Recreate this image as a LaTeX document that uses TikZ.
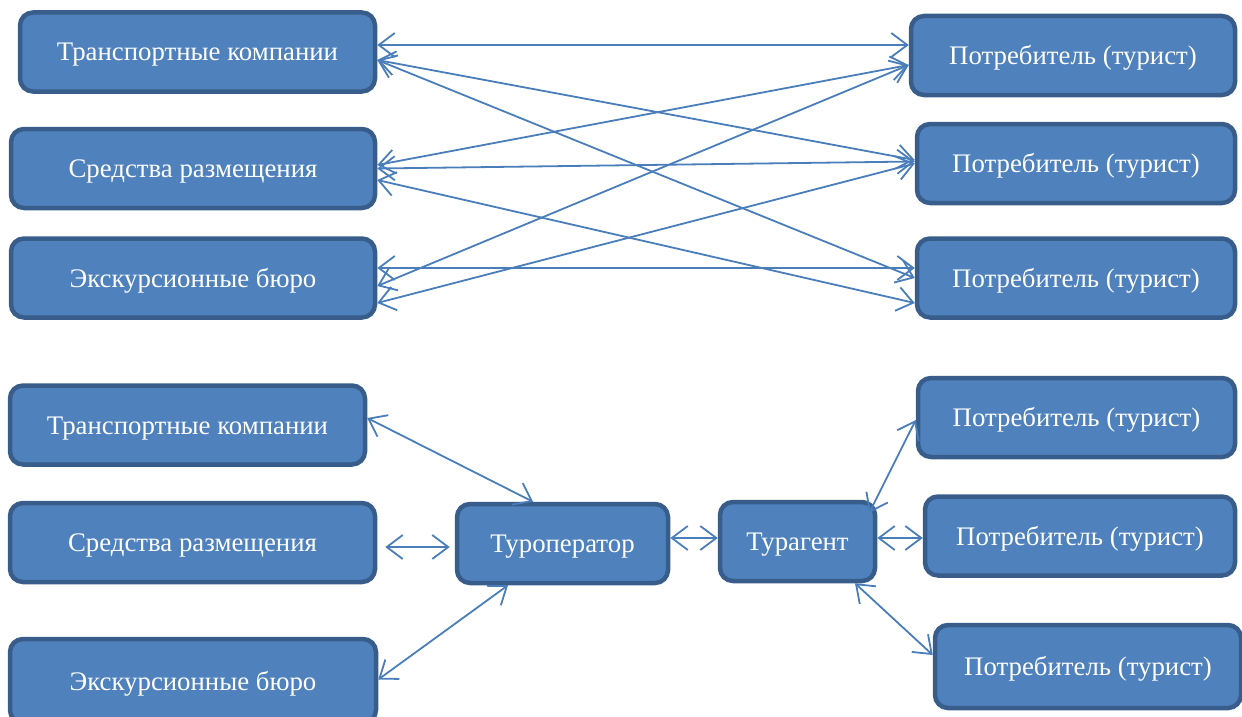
\documentclass[tikz,border=0pt]{standalone}
\usepackage{fontspec}
\setmainfont{Liberation Serif}
\usetikzlibrary{arrows.meta}
\definecolor{boxfill}{HTML}{4F81BD}
\definecolor{boxline}{HTML}{385D8A}
\definecolor{linkcol}{HTML}{4A7EBB}
\tikzset{
	box/.style={draw=boxline, fill=boxfill, line width=4.5pt, rounded corners=13pt, text=white, inner sep=0pt, minimum height=79pt, text height=18pt, text depth=0pt, font=\fontsize{26.8}{31}\selectfont},
	link/.style={draw=linkcol, line width=1.8pt, {Straight Barb[length=16pt,width=24pt]}-{Straight Barb[length=16pt,width=24pt]}}
}

\begin{document}
\begin{tikzpicture}[x=1pt, y=-1pt]
			%%%%% START %%%%%
			
			\useasboundingbox (0, 0) rectangle (1242, 717);
			\clip (0, 0) rectangle (1242, 717);
			
			\node[box, minimum width=355pt] (trans1) at (197.5, 52) {Транспортные компании};
			\node[box, minimum width=364pt] (sredst1) at (193, 168.5) {Средства размещения};
			\node[box, minimum width=364pt] (ekskur1) at (193, 278) {Экскурсионные бюро};
			
			\node[box, minimum width=324pt] (potr1) at (1073, 55.5) {Потребитель (турист)};
			\node[box, minimum width=318pt] (potr2) at (1076, 163.5) {Потребитель (турист)};
			\node[box, minimum width=318pt] (potr3) at (1076, 278) {Потребитель (турист)};
			
			\draw[link] ([yshift=7pt]trans1.east) -- ([yshift=10.5pt]potr1.west);
			\draw[link] ([yshift=-8pt]trans1.east) -- ([yshift=3.5pt]potr2.west);
			\draw[link] ([yshift=-8pt]trans1.east) -- (potr3.west);
			\draw[link] ([yshift=3.5pt]sredst1.east) -- ([yshift=-9.5pt]potr1.west);
			\draw[link] (sredst1.east) -- ([yshift=2pt]potr2.west);
			\draw[link] ([yshift=-11.5pt]sredst1.east) -- ([yshift=-25pt]potr3.west);
			\draw[link] ([yshift=10pt]ekskur1.east) -- ([yshift=10pt]potr3.west);
			\draw[link] ([yshift=-8pt]ekskur1.east) -- ([yshift=-9.5pt]potr1.west);
			\draw[link] ([yshift=-25pt]ekskur1.east) -- (potr2.west);
			
			\node[box, minimum width=355pt] (trans2) at (187.5, 425) {Транспортные компании};
			\node[box, minimum width=365pt] (sredst2) at (192.5, 542.5) {Средства размещения};
			\node[box, minimum width=366pt, minimum height=84pt] (ekskur2) at (193, 681) {Экскурсионные бюро};
			
			\node[box, minimum width=211pt] (tourop) at (562.5, 543.5) {Туроператор};
			\node[box, minimum width=155pt] (touragent) at (797.5, 541.5) {Турагент};
			
			\node[box, minimum width=317pt] (potr4) at (1076.5, 417.5) {Потребитель (турист)};
			\node[box, minimum width=310pt] (potr5) at (1080, 536) {Потребитель (турист)};
			\node[box, minimum width=306pt, minimum height=83pt] (potr6) at (1088, 666.5) {Потребитель (турист)};
			
			\draw[link] ([yshift=7pt]trans2.east) -- ([xshift=-29.5pt]tourop.north);
			\draw[link, shorten <=8pt, shorten >=5pt] ([yshift=-4.5pt]sredst2.east) -- ([yshift=-3.5pt]tourop.west);
			\draw[link] ([yshift=1.5pt]ekskur2.east) -- ([xshift=-54.5pt]tourop.south);
			\draw[link] ([yshift=5.5pt]tourop.east) -- ([yshift=3.5pt]touragent.west);
			
			\draw[link] ([xshift=-8pt, yshift=-13pt]touragent.north east) -- ([yshift=-2.5pt]potr4.west);
			\draw[link] ([yshift=3.5pt]touragent.east) -- ([yshift=-2pt]potr5.west);
			\draw[link] ([xshift=57.5pt]touragent.south) -- ([yshift=11.5pt]potr6.west);
			
			%%%%% END %%%%%
\end{tikzpicture}
\end{document}
